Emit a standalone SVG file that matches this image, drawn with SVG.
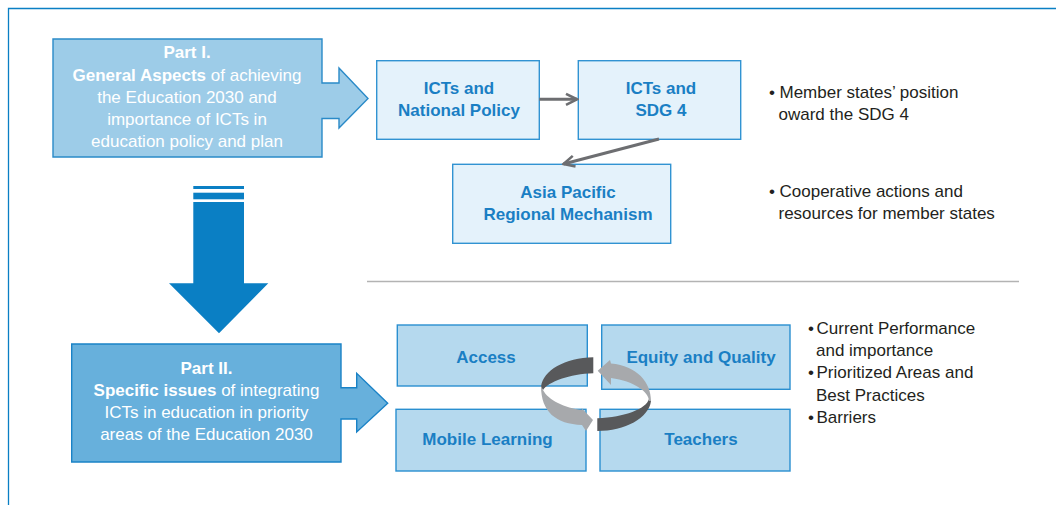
<svg xmlns="http://www.w3.org/2000/svg" width="1056" height="505" viewBox="0 0 1056 505">
<defs>
<style>
.frame{stroke:#0a7fc4;stroke-width:1.3;fill:none}
.part1{fill:#9dcce8;stroke:#2a8ac8;stroke-width:1.4}
.part2{fill:#67b0dc;stroke:#1a82c6;stroke-width:1.4}
.top{fill:#e4f2fb;stroke:#3193d2;stroke-width:1.4}
.bot{fill:#b5d9ee;stroke:#2a8fd0;stroke-width:1.4}
.ptxt{font-family:"Liberation Sans",Arial,sans-serif;font-size:17px;fill:#ffffff;text-anchor:middle}
.b{font-weight:bold}
.ntxt{font-family:"Liberation Sans",Arial,sans-serif;font-size:17px;font-weight:bold;fill:#1a7fc4;text-anchor:middle}
.btxt{font-family:"Liberation Sans",Arial,sans-serif;font-size:17px;fill:#231f20}
.conn{stroke:#6d6e71;stroke-width:3;fill:none}
.dark{fill:#58595b}
.light{fill:#a7a9ac}
</style>
<marker id="chev" markerUnits="userSpaceOnUse" viewBox="0 0 14 14" refX="12" refY="7" markerWidth="14" markerHeight="14" orient="auto">
<path d="M1,1.5 L12,7 L1,12.5" fill="none" stroke="#6d6e71" stroke-width="2.6"/>
</marker>
</defs>
<rect width="1056" height="505" fill="#ffffff"/>
<path class="frame" d="M8.5,505 L8.5,8.5 L1056,8.5"/>

<g id="part1">
<path class="part1" d="M53,39 L322,39 L322,83 L339,83 L339,68 L368,98.5 L339,128 L339,118.5 L322,118.5 L322,157 L53,157 Z"/>
<text class="ptxt"><tspan class="b" x="187" y="58">Part I.</tspan><tspan x="187" y="80.5"><tspan class="b">General Aspects</tspan> of achieving</tspan><tspan x="187" y="103">the Education 2030 and</tspan><tspan x="187" y="125">importance of ICTs in</tspan><tspan x="187" y="147">education policy and plan</tspan></text>
</g>

<g id="down-arrow" fill="#0a7fc4">
<rect x="193.3" y="186" width="50.7" height="3"/>
<rect x="193.3" y="192.7" width="50.7" height="6.6"/>
<path d="M193.3,202 L244,202 L244,283.3 L268.3,283.3 L219,333.3 L169,283.3 L193.3,283.3 Z"/>
</g>

<g id="part2">
<path class="part2" d="M71.7,344 L341,344 L341,387.7 L356.7,387.7 L356.7,373.3 L387.7,403.3 L356.7,432 L356.7,419 L341,419 L341,462 L71.7,462 Z"/>
<text class="ptxt"><tspan class="b" x="206.5" y="374">Part II.</tspan><tspan x="206.5" y="396"><tspan class="b">Specific issues</tspan> of integrating</tspan><tspan x="206.5" y="418">ICTs in education in priority</tspan><tspan x="206.5" y="440">areas of the Education 2030</tspan></text>
</g>

<g id="ict-national-policy">
<rect class="top" x="376.7" y="60.7" width="162.6" height="78.6"/>
<text class="ntxt"><tspan x="459" y="94.3">ICTs and</tspan><tspan x="459" y="116">National Policy</tspan></text>
</g>
<g id="ict-sdg4">
<rect class="top" x="578.3" y="60.7" width="162.4" height="78.6"/>
<text class="ntxt"><tspan x="661" y="94.3">ICTs and</tspan><tspan x="661" y="116">SDG 4</tspan></text>
</g>
<g id="asia-pacific">
<rect class="top" x="452.7" y="164.3" width="218" height="79"/>
<text class="ntxt"><tspan x="568" y="198.3">Asia Pacific</tspan><tspan x="568" y="220">Regional Mechanism</tspan></text>
</g>

<g id="connectors">
<line class="conn" x1="539.3" y1="99.3" x2="577" y2="99.3" marker-end="url(#chev)"/>
<line class="conn" x1="659" y1="139" x2="563.5" y2="164" marker-end="url(#chev)"/>
</g>

<line x1="367" y1="281.5" x2="1019" y2="281.5" stroke="#b3b3b3" stroke-width="1.5"/>

<g id="bullets-top" class="btxt">
<text><tspan x="769" y="97.5">•</tspan><tspan x="779.5" y="97.5">Member states’ position</tspan></text>
<text x="778.5" y="119.5">oward the SDG 4</text>
<text><tspan x="769" y="197">•</tspan><tspan x="779.5" y="197">Cooperative actions and</tspan></text>
<text x="778.5" y="219">resources for member states</text>
</g>

<g id="access">
<rect class="bot" x="397.3" y="325" width="190" height="61"/>
<text class="ntxt" x="486" y="363.3">Access</text>
</g>
<g id="equity-quality">
<rect class="bot" x="601.7" y="325" width="188.3" height="64.3"/>
<text class="ntxt" x="701" y="363.3">Equity and Quality</text>
</g>
<g id="mobile-learning">
<rect class="bot" x="396" y="409.3" width="190" height="61.7"/>
<text class="ntxt" x="487.5" y="445">Mobile Learning</text>
</g>
<g id="teachers">
<rect class="bot" x="600" y="409.3" width="190" height="61.7"/>
<text class="ntxt" x="701" y="445">Teachers</text>
</g>

<g id="cycle">
<path class="dark" d="M593.3,357.3 C565,358 543,370 541,387 L543,390 C548,382 570,374 593.3,373.3 Z"/>
<path class="light" d="M541,386 C541,412 556,424 582,425 L586,431 L593,420 L581.5,408 L582,410 C565,408 548,400 543,390 Z"/>
<path class="dark" d="M597.3,431 C625,431 649,418 651,401 L649,399 C646,409 625,417 597.3,418.3 Z"/>
<path class="light" d="M651,401 C651,382 637,366 611,363.5 L610,360 L597.7,370.7 L611,385 L611,378 C634,381 649,392 649,401 Z"/>
</g>

<g id="bullets-bottom" class="btxt">
<text><tspan x="808" y="333.5">•</tspan><tspan x="816.5" y="333.5">Current Performance</tspan></text>
<text x="816" y="356">and importance</text>
<text><tspan x="808" y="378.3">•</tspan><tspan x="816.5" y="378.3">Prioritized Areas and</tspan></text>
<text x="816" y="400.6">Best Practices</text>
<text><tspan x="808" y="423">•</tspan><tspan x="816.5" y="423">Barriers</tspan></text>
</g>
</svg>
